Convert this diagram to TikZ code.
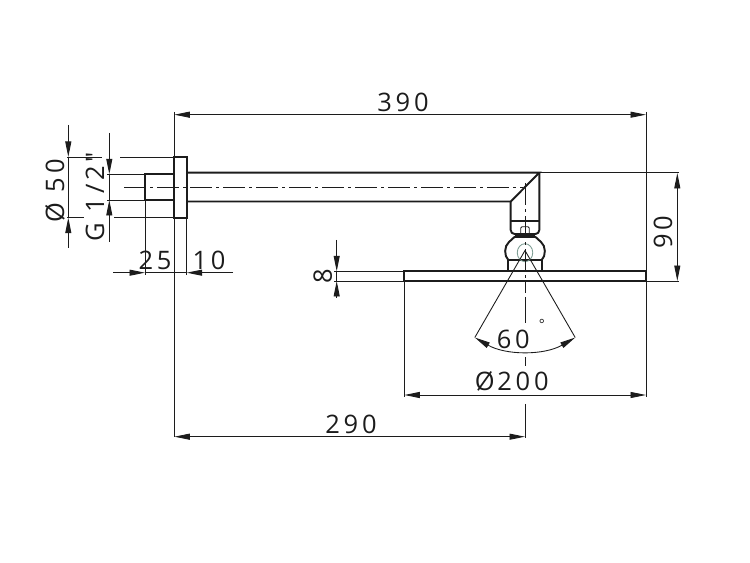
\documentclass[tikz,border=0pt]{standalone}
\usepackage{fontspec}
\usetikzlibrary{arrows.meta}
\newfontfamily\dimfont[LetterSpace=15]{Open Sans}
\definecolor{inkline}{HTML}{1C1C1C}
\definecolor{balloutline}{HTML}{7F9F95}
\tikzset{
	outline/.style={draw=inkline,line width=1.1pt},
	thinline/.style={draw=inkline,line width=0.5pt},
	centerline/.style={draw=inkline,line width=0.5pt,dash pattern=on 12.5pt off 2.3pt on 1.7pt off 2.3pt},
	dimarrow/.style={thinline,-{Triangle[length=0.31cm,width=0.12cm,inkline]}},
	dimboth/.style={thinline,{Triangle[length=0.31cm,width=0.12cm,inkline]}-{Triangle[length=0.31cm,width=0.12cm,inkline]}},
	dimtext/.style={text=inkline,inner sep=0pt}
}
\begin{document}
\begin{tikzpicture}[x=0.02cm,y=-0.02cm]
	\newcommand{\mydimfont}[1]{%
		\fontsize{14.5}{16}\selectfont\dimfont{#1}%
	}
	\useasboundingbox (0,0) rectangle (750,563);
	%Wall flange and threaded stub
	\coordinate (flangeTL) at (174.3,157);
	\coordinate (flangeBR) at (186.7,217.7);
	\coordinate (stubTL) at (145,174.3);
	\coordinate (stubBR) at (174.3,200);
	\draw[outline] (flangeTL) rectangle (flangeBR);
	\draw[outline] (stubBR) -| (stubTL) -- (stubTL -| flangeTL);
	%Arm with the mitred corner
	\coordinate (armTL) at (186.7,172.7);
	\coordinate (armBL) at (186.7,201.5);
	\coordinate (armTR) at (539.3,172.7);
	\coordinate (armBR) at (510.7,201.5);
	\draw[outline] (armTL) -- (armTR) -- (armBR) -- (armBL);
	%Neck below the corner
	\draw[outline] (armBR) -- (510.7,230) to[out=-90,in=180] (514.5,234) -- (535.5,234) to[out=0,in=-90] (539.3,230) -- (armTR);
	\draw[outline] (510.7,221.3) -- (539.3,221.3);
	%Small nut
	\draw[thinline] (520.7,234) -- (520.7,228) -- (522,226.7) -- (528,226.7) -- (529.3,228) -- (529.3,234);
	%Ball joint
	\draw[outline,line width=1.6pt] (515,236.5) -- (535,236.5);
	\draw[outline] (515,236.5) -- (509,242) .. controls (504,246) and (504,256) .. (508.3,260) -- (541.7,260) .. controls (546,256) and (546,246) .. (541,242) -- (535,236.5);
	\draw[outline] (508.3,260) -- (508.3,271.3);
	\draw[outline] (541.7,260) -- (541.7,271.3);
	\draw[balloutline,line width=0.5pt] (525,252.7) ellipse [x radius=0.155cm,y radius=0.18cm];
	%Plate
	\coordinate (plateTL) at (404.3,271.3);
	\coordinate (plateBR) at (646,281);
	\draw[outline] (plateTL) rectangle (plateBR);
	%Center lines
	\coordinate (axisLeft) at (124,187.7);
	\coordinate (axisCorner) at (523,187.7);
	\coordinate (axisTop) at (525,183);
	\coordinate (axisPlate) at (525,281);
	\draw[centerline] (axisLeft) -- (axisCorner);
	\draw[centerline] (axisTop) -- (axisPlate);
	\draw[thinline] (axisPlate) -- (525,293);
	\draw[thinline] (525,297) -- (525,323);
	\draw[thinline] (525,357) -- (525,366);
	%Spray cone
	\coordinate (coneTip) at (525,250.5);
	\coordinate (coneLeft) at (474.8,337.5);
	\coordinate (coneRight) at (575.2,337.5);
	\draw[thinline] (coneTip) -- (coneLeft);
	\draw[thinline] (coneTip) -- (coneRight);
	\draw[dimboth] (coneLeft) arc [start angle=240,end angle=300,radius=2.01cm];
	\node [dimtext] (angle) at (513.3,339) {\mydimfont{60}};
	\node [dimtext] (degree) at (542,324) {\fontsize{8}{10}\selectfont\dimfont{°}};
	%Dimension 390
	\coordinate (d390Left) at (174.3,114.7);
	\coordinate (d390Right) at (646,114.7);
	\draw[thinline] (174.3,112) -- (174.3,436.7);
	\draw[thinline] (646,112) -- (646,397);
	\draw[dimboth] (d390Left) -- (d390Right);
	\node [dimtext] (t390) at (403,102.7) {\mydimfont{390}};
	%Dimension 90
	\coordinate (d90Top) at (677.3,173);
	\coordinate (d90Bottom) at (677.3,281);
	\draw[thinline] (armTR) -- (679,172.7);
	\draw[thinline] (plateBR) -- (679,281);
	\draw[dimboth] (d90Top) -- (d90Bottom);
	\node [dimtext,rotate=90] (t90) at (663,232) {\mydimfont{90}};
	%Dimension 8
	\coordinate (d8Top) at (336.7,271.3);
	\coordinate (d8Bottom) at (336.7,281);
	\draw[thinline] (334,271.3) -- (plateTL);
	\draw[thinline] (334,281) -- (404.3,281);
	\draw[dimarrow] (336.7,240) -- (d8Top);
	\draw[thinline] (d8Top) -- (d8Bottom);
	\draw[dimarrow] (336.7,298) -- (d8Bottom);
	\node [dimtext,rotate=90] (t8) at (322.7,276) {\mydimfont{8}};
	%Dimension 200
	\coordinate (d200Left) at (404.3,395);
	\coordinate (d200Right) at (646,395);
	\draw[thinline] (404.3,281) -- (404.3,397);
	\draw[dimboth] (d200Left) -- (d200Right);
	\node [dimtext] (t200) at (511.7,381.7) {\mydimfont{Ø\hspace{1.5pt}200}};
	%Dimension 290
	\coordinate (d290Left) at (174.3,436.7);
	\coordinate (d290Right) at (525,436.7);
	\draw[thinline] (525,404) -- (525,438);
	\draw[dimboth] (d290Left) -- (d290Right);
	\node [dimtext] (t290) at (351,424) {\mydimfont{290}};
	%Dimension 50
	\draw[thinline] (67,157) -- (102,157);
	\draw[thinline] (120,157) -- (flangeTL);
	\draw[thinline] (67,217.7) -- (84,217.7);
	\draw[thinline] (114,217.7) -- (174.3,217.7);
	\draw[dimarrow] (68.3,125) -- (68.3,157);
	\draw[thinline] (68.3,157) -- (68.3,217.7);
	\draw[dimarrow] (68.3,248) -- (68.3,217.7);
	\node [dimtext,rotate=90] (t50) at (55,191) {\mydimfont{Ø 50}};
	%Dimension thread
	\draw[thinline] (107,174.3) -- (stubTL);
	\draw[thinline] (107,200) -- (145,200);
	\draw[dimarrow] (109.3,133) -- (109.3,174.3);
	\draw[thinline] (109.3,174.3) -- (109.3,200);
	\draw[dimarrow] (109.3,242) -- (109.3,200);
	\node [dimtext,rotate=90] (tThread) at (95,196.5) {\mydimfont{G 1/2"}};
	%Dimensions 25 and 10
	\draw[thinline] (145,200) -- (145,275);
	\draw[thinline] (186.7,217.7) -- (186.7,275);
	\draw[dimarrow] (113,272.7) -- (145,272.7);
	\draw[thinline] (145,272.7) -- (186.7,272.7);
	\draw[dimarrow] (233,272.7) -- (186.7,272.7);
	\node [dimtext] (t25) at (155,260) {\mydimfont{25}};
	\node [dimtext] (t10) at (209,260) {\mydimfont{10}};
\end{tikzpicture}
\end{document}
